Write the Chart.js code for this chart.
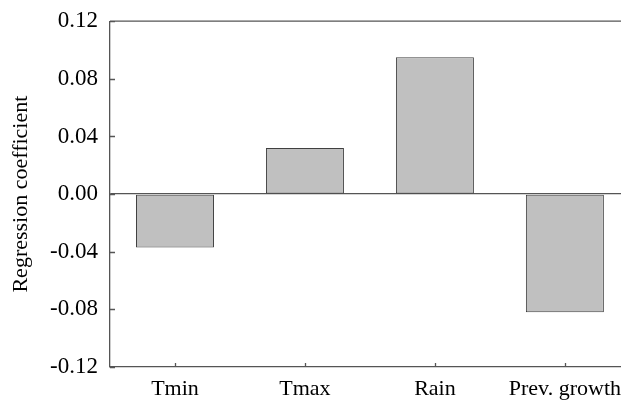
<!DOCTYPE html>
<html>
<head>
<meta charset="utf-8">
<script src="https://cdn.jsdelivr.net/npm/chart.js@4"></script>
<style>
  html, body { margin: 0; padding: 0; background: #fff; overflow: hidden; }
  #wrap { width: 630px; height: 403px; }
</style>
</head>
<body>
<div id="wrap"><canvas id="chart_coef"></canvas></div>
<script>
var categories = ['Tmin', 'Tmax', 'Rain', 'Prev. growth'];
var coefValues = [-0.037, 0.032, 0.095, -0.082];
var yTickValues = [-0.12, -0.08, -0.04, 0.00, 0.04, 0.08, 0.12];
var yTickLabels = ['-0.12', '-0.08', '-0.04', '0.00', '0.04', '0.08', '0.12'];
var yTitle = 'Regression coefficient';

var axisColor = '#555555';
var serif = "'Liberation Serif', 'Times New Roman', serif";

// small inward ticks + top frame line
var frameTicks = {
  id: 'frameTicks',
  afterDraw: function (chart) {
    var ctx = chart.ctx, area = chart.chartArea;
    var xs = chart.scales.x, ys = chart.scales.y;
    ctx.save();
    ctx.strokeStyle = axisColor;
    ctx.lineWidth = 1.3;
    ctx.beginPath();
    ctx.moveTo(area.left, area.top);
    ctx.lineTo(area.right, area.top);
    yTickValues.forEach(function (v) {
      var py = Math.round(ys.getPixelForValue(v)) + 0.5;
      ctx.moveTo(area.left, py);
      ctx.lineTo(area.left + 5, py);
    });
    categories.forEach(function (c, i) {
      var px = Math.round(xs.getPixelForValue(i)) + 0.5;
      ctx.moveTo(px, area.bottom);
      ctx.lineTo(px, area.bottom - 4);
    });
    ctx.stroke();
    ctx.restore();
  }
};

var ctx = document.getElementById('chart_coef');
var myChart = new Chart(ctx, {
  type: 'bar',
  data: {
    labels: categories,
    datasets: [{
      data: coefValues,
      backgroundColor: '#c0c0c0',
      borderColor: '#404040',
      borderWidth: 1,
      borderSkipped: false,
      barPercentage: 0.6,
      categoryPercentage: 1.0
    }]
  },
  options: {
    responsive: true,
    maintainAspectRatio: false,
    animation: false,
    layout: { padding: { top: 20, right: 0, bottom: 0, left: 0 } },
    plugins: { legend: { display: false }, tooltip: { enabled: false } },
    scales: {
      x: {
        grid: { display: false, drawTicks: false },
        border: { display: true, color: axisColor, width: 1.3 },
        ticks: { color: '#000', padding: 9, font: { family: serif, size: 22 } },
        afterFit: function (scale) { scale.height = 36; }
      },
      y: {
        min: -0.12,
        max: 0.12,
        afterBuildTicks: function (scale) {
          scale.ticks = yTickValues.map(function (v) { return { value: v }; });
        },
        grid: {
          drawTicks: false,
          lineWidth: 1.3,
          color: function (c) {
            return (c.tick && Math.abs(c.tick.value) < 1e-9) ? axisColor : 'rgba(0,0,0,0)';
          }
        },
        border: { display: true, color: axisColor, width: 1.3 },
        ticks: {
          color: '#000',
          padding: 12,
          font: { family: serif, size: 23, lineHeight: 0.8 },
          callback: function (value, index) { return yTickLabels[index]; }
        },
        title: {
          display: true,
          text: yTitle,
          color: '#000',
          padding: { top: 8, bottom: 0 },
          font: { family: serif, size: 22 }
        },
        afterFit: function (scale) { scale.width = 110; }
      }
    }
  },
  plugins: [frameTicks]
});
</script>
</body>
</html>
